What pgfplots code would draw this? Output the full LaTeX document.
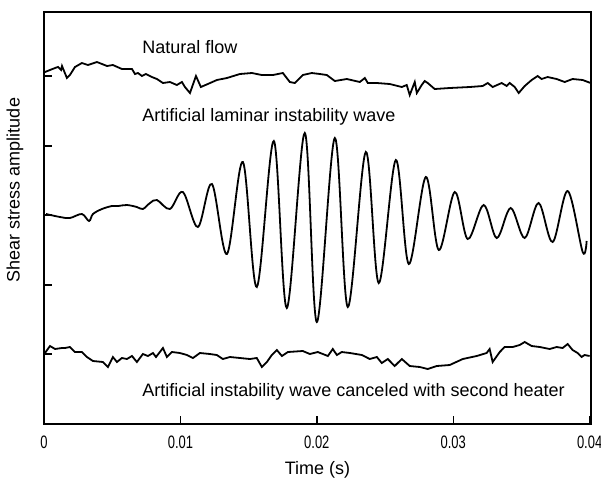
\documentclass[border=0pt]{standalone}
\usepackage{fontspec}
\setmainfont{Liberation Sans}
\newfontfamily\narrowfont{Liberation Sans}[FakeStretch=0.72]
\usepackage{pgfplots}
\pgfplotsset{compat=1.18}

% traces (time in s, amplitude in arbitrary units)
\pgfplotstableread{
t        v
0.00007  352
0.00081  356
0.00103  357
0.00125  354
0.00132  358
0.00168  346
0.00190  349
0.00227  357
0.00278  361
0.00322  359
0.00388  362
0.00462  358
0.00505  359
0.00571  355
0.00645  355
0.00667  350
0.00689  351
0.00718  348
0.00747  350
0.00791  347
0.00828  345
0.00872  341
0.00923  342
0.00974  339
0.01011  342
0.01033  337
0.01070  331
0.01114  348
0.01150  337
0.01201  340
0.01267  344
0.01341  346
0.01436  350
0.01524  351
0.01597  349
0.01678  349
0.01751  351
0.01802  342
0.01839  341
0.01897  349
0.01963  351
0.02022  350
0.02073  349
0.02132  343
0.02220  345
0.02315  342
0.02352  346
0.02374  341
0.02440  341
0.02535  340
0.02623  337
0.02659  339
0.02681  329
0.02718  342
0.02733  331
0.02769  339
0.02791  343
0.02813  341
0.02864  335
0.02974  336
0.03121  337
0.03216  338
0.03253  341
0.03289  337
0.03355  341
0.03392  338
0.03414  341
0.03451  337
0.03480  331
0.03524  338
0.03575  344
0.03619  348
0.03648  345
0.03692  347
0.03758  345
0.03817  342
0.03875  345
0.03949  344
0.04007  341
}\natural

\pgfplotstableread{
t        v
0.00015  210
0.00117  207
0.00190  206
0.00278  210
0.00330  203
0.00359  210
0.00425  215
0.00498  218
0.00542  218
0.00608  219
0.00681  217
0.00725  215
0.00777  221
0.00828  224
0.00923  215
0.01018  232
0.01128  197
0.01231  240
0.01341  170
0.01458  262
0.01560  137
0.01685  283
0.01780  116
0.01912  291
0.02000  102
0.02132  286
0.02227  117
0.02359  272
0.02454  141
0.02579  264
0.02674  160
0.02799  247
0.02894  174
0.03011  232
0.03106  185
0.03223  219
0.03319  186
0.03421  216
0.03524  186
0.03626  221
0.03729  182
0.03839  233
0.03949  172
0.03978  183
}\wave

\pgfplotstableread{
t        v
0.00007  71
0.00044  78
0.00081  75
0.00132  76
0.00154  76
0.00190  77
0.00227  72
0.00278  72
0.00315  67
0.00359  63
0.00432  62
0.00469  57
0.00505  67
0.00535  62
0.00571  66
0.00608  65
0.00645  68
0.00681  62
0.00725  70
0.00762  68
0.00799  71
0.00821  67
0.00872  76
0.00901  67
0.00938  72
0.00996  71
0.01048  69
0.01092  66
0.01143  71
0.01216  70
0.01267  69
0.01311  65
0.01363  67
0.01436  66
0.01509  65
0.01560  66
0.01597  57
0.01634  62
0.01670  69
0.01707  74
0.01744  68
0.01788  72
0.01897  73
0.01949  70
0.02007  72
0.02081  68
0.02117  75
0.02147  69
0.02183  72
0.02242  71
0.02330  69
0.02388  65
0.02440  67
0.02476  61
0.02520  65
0.02571  58
0.02623  65
0.02681  58
0.02755  57
0.02813  55
0.02879  58
0.02974  59
0.03070  65
0.03172  68
0.03245  71
0.03267  75
0.03289  62
0.03341  72
0.03377  77
0.03436  77
0.03487  79
0.03524  82
0.03575  78
0.03634  77
0.03707  75
0.03758  77
0.03802  76
0.03839  80
0.03875  74
0.03912  71
0.03941  67
0.03963  69
0.04000  68
}\canceled

\begin{document}
\begin{tikzpicture}
\begin{axis}[
    name=ax,
    width=273.5pt, height=206pt,
    scale only axis,
    xmin=0, xmax=0.0401,
    ymin=0, ymax=412,
    axis line style={line width=0.9pt},
    tick style={black, line width=0.7pt},
    tick align=inside,
    major tick length=4pt,
    scaled x ticks=false,
    xtick={0,0.01,0.02,0.03,0.04},
    xticklabels={0,0.01,0.02,0.03,0.04},
    xtick pos=bottom,
    ytick={70,139,209,278,348},
    yticklabels={},
    ytick pos=left,
    xticklabel style={font=\narrowfont\fontsize{9}{10}\selectfont, yshift=-2.5pt},
    xlabel={Time (s)},
    xlabel style={at={(axis description cs:0.5,0)}, anchor=center, yshift=-23pt, font=\fontsize{9}{10}\selectfont},
    ylabel={Shear stress amplitude},
    ylabel style={at={(axis description cs:-0.053,0.568)}, anchor=center, font=\fontsize{9}{10}\selectfont},
    clip=false,
]
\addplot[black, line width=0.9pt] table[x=t, y=v] {\natural};
\addplot[black, line width=0.9pt, smooth, tension=0.55] table[x=t, y=v] {\wave};
\addplot[black, line width=0.9pt] table[x=t, y=v] {\canceled};
\node[anchor=west, font=\fontsize{9}{10}\selectfont] at (axis cs:0.0067,377) {Natural flow};
\node[anchor=west, font=\fontsize{9}{10}\selectfont] at (axis cs:0.0067,307) {Artificial laminar instability wave};
\node[anchor=west, font=\fontsize{9}{10}\selectfont] at (axis cs:0.0067,32) {Artificial instability wave canceled with second heater};
\end{axis}
\pgfresetboundingbox
\path[use as bounding box] ([xshift=-22pt,yshift=-27.5pt]ax.south west) rectangle ([xshift=5pt,yshift=6pt]ax.north east);
\end{tikzpicture}
\end{document}
